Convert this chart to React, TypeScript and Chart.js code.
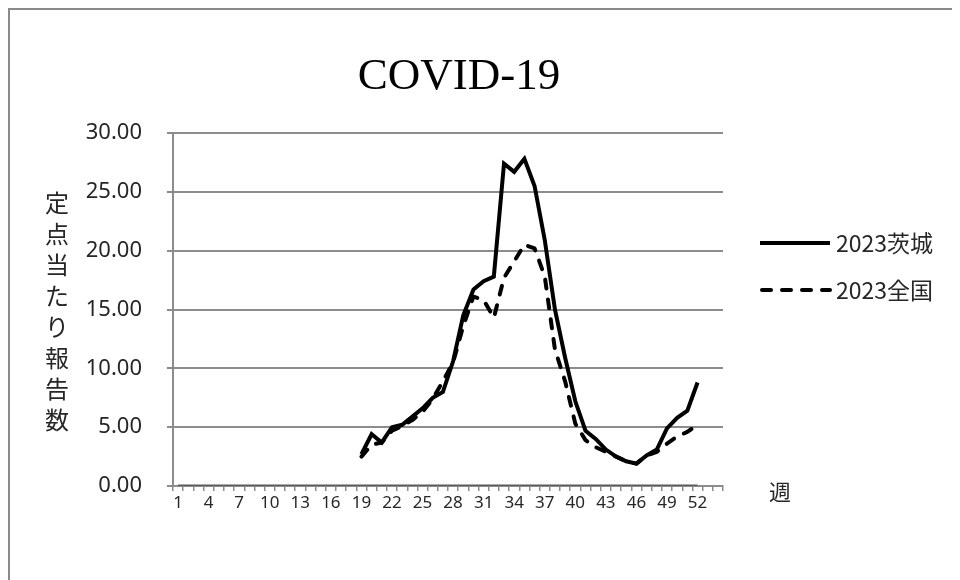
import React, { useEffect, useRef } from "react";
import { Chart, registerables } from "chart.js";

Chart.register(...registerables);

const chartTitle = "COVID-19";
const yAxisTitle = "定点当たり報告数";
const xAxisTitle = "週";
const seriesNames = ["2023茨城", "2023全国"];

const weeks = [
  "1", "2", "3", "4", "5", "6", "7", "8", "9", "10",
  "11", "12", "13", "14", "15", "16", "17", "18", "19", "20",
  "21", "22", "23", "24", "25", "26", "27", "28", "29", "30",
  "31", "32", "33", "34", "35", "36", "37", "38", "39", "40",
  "41", "42", "43", "44", "45", "46", "47", "48", "49", "50",
  "51", "52", "53", "54",
];

const ibaraki = [
  null, null, null, null, null, null, null, null, null, null,
  null, null, null, null, null, null, null, null,
  2.7, 4.4, 3.7, 5.0, 5.2, 5.9, 6.6, 7.5, 8.0, 10.6,
  14.5, 16.7, 17.4, 17.8, 27.4, 26.7, 27.8, 25.5, 20.9, 15.0,
  10.9, 7.2, 4.7, 4.0, 3.1, 2.5, 2.1, 1.9, 2.6, 3.1,
  4.9, 5.8, 6.4, 8.8,
  null, null,
];

const national = [
  null, null, null, null, null, null, null, null, null, null,
  null, null, null, null, null, null, null, null,
  2.5, 3.5, 3.7, 4.7, 5.1, 5.6, 6.3, 7.4, 8.9, 10.5,
  13.6, 16.1, 15.8, 14.3, 17.7, 19.1, 20.5, 20.2, 17.8, 11.6,
  8.9, 5.3, 3.9, 3.3, 2.9, 2.5, 2.1, 1.9, 2.6, 2.9,
  3.6, 4.2, 4.6, 5.2,
  null, null,
];

// dark baseline drawn along the axis for weeks 1-52
const baseline = [
  0, 0, 0, 0, 0, 0, 0, 0, 0, 0,
  0, 0, 0, 0, 0, 0, 0, 0, 0, 0,
  0, 0, 0, 0, 0, 0, 0, 0, 0, 0,
  0, 0, 0, 0, 0, 0, 0, 0, 0, 0,
  0, 0, 0, 0, 0, 0, 0, 0, 0, 0,
  0, 0, null, null,
];

const yTicks = [0, 5, 10, 15, 20, 25, 30];

const TEXT = "#262626";
const GRID = "#8c8c8c";
const SANS = "'Noto Sans', sans-serif";
const CJK = "'Noto Sans CJK JP', 'Noto Sans', sans-serif";

const decorPlugin = {
  id: "decor",
  afterDraw(chart: any) {
    const ctx = chart.ctx as CanvasRenderingContext2D;
    ctx.save();
    // title
    ctx.fillStyle = "#000";
    ctx.font = "45px 'Liberation Serif', serif";
    ctx.textAlign = "center";
    ctx.textBaseline = "middle";
    ctx.fillText(chartTitle, 449, 67);

    // vertical y-axis title
    ctx.fillStyle = TEXT;
    ctx.font = `24px ${CJK}`;
    const chars = Array.from(yAxisTitle);
    chars.forEach((c, i) => {
      ctx.fillText(c, 47, 193 + i * 31);
    });

    // x-axis title
    ctx.font = `22px ${CJK}`;
    ctx.fillText(xAxisTitle, 770, 482);

    // legend
    const items = [
      { name: seriesNames[0], y: 233, dash: [] as number[] },
      { name: seriesNames[1], y: 280, dash: [9, 11] },
    ];
    items.forEach((it) => {
      ctx.beginPath();
      ctx.strokeStyle = "#000";
      ctx.lineWidth = 4;
      ctx.lineCap = it.dash.length ? "round" : "butt";
      ctx.setLineDash(it.dash);
      ctx.moveTo(it.dash.length ? 752 : 750, it.y);
      ctx.lineTo(820, it.y);
      ctx.stroke();
      ctx.setLineDash([]);
      ctx.fillStyle = TEXT;
      ctx.font = `23px ${CJK}`;
      ctx.textAlign = "left";
      ctx.textBaseline = "middle";
      ctx.fillText(it.name, 826, it.y);
    });
    ctx.restore();
  },
};

export default function App() {
  const canvasRef = useRef<HTMLCanvasElement | null>(null);

  useEffect(() => {
    if (!canvasRef.current) return;
    const chart = new Chart(canvasRef.current, {
      type: "line",
      data: {
        labels: weeks,
        datasets: [
          {
            label: "baseline",
            data: baseline,
            borderColor: "#5a5a5a",
            borderWidth: 3,
            pointRadius: 0,
            order: 3,
          },
          {
            label: seriesNames[1],
            data: national,
            borderColor: "#000",
            borderWidth: 4,
            borderDash: [9, 11],
            borderCapStyle: "round",
            borderJoinStyle: "round",
            pointRadius: 0,
            tension: 0,
            spanGaps: false,
            order: 2,
          },
          {
            label: seriesNames[0],
            data: ibaraki,
            borderColor: "#000",
            borderWidth: 4,
            borderJoinStyle: "miter",
            pointRadius: 0,
            tension: 0,
            spanGaps: false,
            order: 1,
          },
        ],
      },
      options: {
        responsive: false,
        animation: false,
        layout: { padding: { left: 0, top: 123, right: 237, bottom: 0 } },
        plugins: {
          legend: { display: false },
          title: { display: false },
          tooltip: { enabled: false },
        },
        scales: {
          x: {
            type: "category",
            offset: true,
            afterFit: (scale: any) => {
              scale.height = 94;
            },
            grid: {
              display: true,
              offset: true,
              drawOnChartArea: false,
              drawTicks: true,
              tickLength: 5,
              color: GRID,
              lineWidth: 1.5,
            },
            border: { display: true, color: GRID, width: 2 },
            ticks: {
              autoSkip: false,
              maxRotation: 0,
              minRotation: 0,
              padding: 2,
              color: TEXT,
              font: { family: SANS, size: 17 },
              callback: (_v: any, i: number) => (i % 3 === 0 ? weeks[i] : ""),
            },
          },
          y: {
            min: yTicks[0],
            max: yTicks[yTicks.length - 1],
            afterFit: (scale: any) => {
              scale.width = 163;
            },
            afterBuildTicks: (scale: any) => {
              scale.ticks = yTicks.map((v) => ({ value: v }));
            },
            grid: {
              color: GRID,
              lineWidth: 2,
              drawTicks: true,
              tickLength: 6,
            },
            border: { display: true, color: GRID, width: 2 },
            ticks: {
              padding: 25,
              color: TEXT,
              font: { family: SANS, size: 22 },
              callback: (v: any) => Number(v).toFixed(2),
            },
          },
        },
      },
      plugins: [decorPlugin],
    } as any);
    return () => chart.destroy();
  }, []);

  return (
    <div
      style={{
        width: 952,
        height: 572,
        boxSizing: "border-box",
        borderLeft: "2px solid #8a8a8a",
        borderTop: "2px solid #8a8a8a",
        overflow: "hidden",
        background: "#fff",
      }}
    >
      <canvas ref={canvasRef} width={950} height={570} style={{ display: "block" }} />
    </div>
  );
}
